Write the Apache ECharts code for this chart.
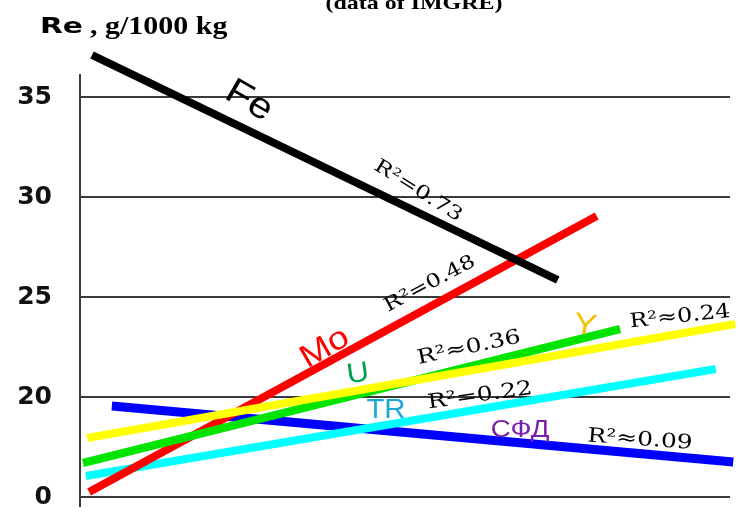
<!DOCTYPE html>
<html>
<head>
<meta charset="utf-8">
<script src="https://cdn.jsdelivr.net/npm/echarts@6/dist/echarts.min.js"></script>
<style>html,body{margin:0;padding:0;background:#fff;}#c{width:741px;height:514px;}</style>
</head>
<body>
<div id="c"></div>
<script>
// ---- data ----
const yTicks = [15, 20, 25, 30, 35];                 // axis positions (broken axis: bottom is 0)
const yTickLabels = ['0', '20', '25', '30', '35'];
const feLine  = [[1.85, 37.1], [73.5, 25.85]];
const moLine  = [[1.4, 15.25], [79.5, 29.05]];
const yLine   = [[1.1, 17.95], [100.8, 23.65]];
const uLine   = [[0.45, 16.7], [83.1, 23.4]];
const trLine  = [[0.9, 16.05], [97.8, 21.4]];
const sfdLine = [[4.9, 19.55], [100.5, 16.75]];
const gridX   = [0, 100];
const axisY   = [36.15, 14.5];

const chart = echarts.init(document.getElementById('c'), null, {renderer: 'canvas'});
const deg = d => d * Math.PI / 180;

function helper(data, w) {
  return {type: 'line', data: data, symbol: 'none', silent: true, clip: false, z: 1,
    lineStyle: {color: '#3a3a3a', width: w}};
}
function trend(name, data, color, w, z) {
  return {name: name, type: 'line', data: data, symbol: 'none', clip: false, z: z,
    lineStyle: {color: color, width: w, cap: 'butt'}};
}

const series = [];
yTicks.forEach(v => series.push(helper([[gridX[0], v], [gridX[1], v]], 2)));
series.push(helper([[0, axisY[0]], [0, axisY[1]]], 2));
series.push(trend('СФД', sfdLine, '#0000ff', 9, 2));
series.push(trend('TR', trLine, '#00ffff', 8, 3));
series.push(trend('Mo', moLine, '#ff0000', 8, 4));
series.push(trend('U', uLine, '#00e400', 8, 5));
series.push(trend('Y', yLine, '#ffff00', 8, 6));
series.push(trend('Fe', feLine, '#000000', 8, 7));

function txt(t, x, y, opt) {
  return {type: 'text', x: x, y: y, rotation: deg(opt.rot || 0), scaleX: opt.sx || 1, z: 100,
    style: {text: t, fill: opt.color || '#000', fontSize: opt.size || 18,
      fontFamily: opt.family || 'DejaVu Serif', fontWeight: opt.weight || 'normal',
      align: opt.align || 'center', verticalAlign: opt.va || 'middle',
      textAlign: opt.align || 'center', textVerticalAlign: opt.va || 'middle'}};
}

const graphics = [
  txt('(data of IMGRE)', 414, 13, {size: 18, family: 'Liberation Serif', weight: 'bold', sx: 1.33, va: 'bottom'}),
  txt('Re', 40, 38, {size: 22, family: 'DejaVu Sans', weight: 'bold', sx: 1.35, align: 'left', va: 'bottom'}),
  txt(', g/1000 kg', 90, 40, {size: 25, family: 'Liberation Serif', weight: 'bold', sx: 1.2, align: 'left', va: 'bottom'}),
  txt('Fe', 249, 101, {size: 36, family: 'Liberation Sans', rot: -30, sx: 1.15}),
  txt('R²=0.73', 418, 191, {size: 19, rot: -32, sx: 1.25}),
  txt('R²=0.48', 430, 284, {size: 19, rot: 28, sx: 1.25}),
  txt('Mo', 325, 348, {size: 32, family: 'Liberation Sans', rot: 30, sx: 1.15, color: '#ff0000'}),
  txt('U', 358, 374, {size: 28, family: 'Liberation Sans', rot: 8, sx: 1.1, color: '#00a050'}),
  txt('R²≈0.36', 469, 348, {size: 20, rot: 12, sx: 1.25}),
  txt('Y', 585, 326, {size: 30, family: 'Liberation Sans', rot: -8, sx: 1.15, color: '#f2c200'}),
  txt('R²≈0.24', 680, 317, {size: 20, rot: 6, sx: 1.2}),
  txt('TR', 386, 410, {size: 28, family: 'Liberation Sans', sx: 1.05, color: '#1ea8d8'}),
  txt('R²=0.22', 480, 396, {size: 20, rot: 8, sx: 1.25}),
  txt('СФД', 520, 430, {size: 24, family: 'Liberation Sans', sx: 1.15, color: '#7a1fa8'}),
  txt('R²≈0.09', 640, 440, {size: 20, rot: -4, sx: 1.25})
];

chart.setOption({
  animation: false,
  backgroundColor: '#ffffff',
  grid: {left: 80, right: 4.5, top: 47, bottom: 17, containLabel: false},
  xAxis: {type: 'value', min: 0, max: 101, show: false},
  yAxis: {
    type: 'value', min: 15, max: 37.5, interval: 5,
    axisLine: {show: false}, axisTick: {show: false}, splitLine: {show: false},
    axisLabel: {
      margin: 28, fontSize: 25, fontFamily: 'DejaVu Sans', fontWeight: 'bold', color: '#111',
      padding: [8, 0, 0, 0],
      formatter: v => { const i = yTicks.indexOf(v); return i >= 0 ? yTickLabels[i] : ''; }
    }
  },
  series: series,
  graphic: graphics
});
</script>
</body>
</html>
